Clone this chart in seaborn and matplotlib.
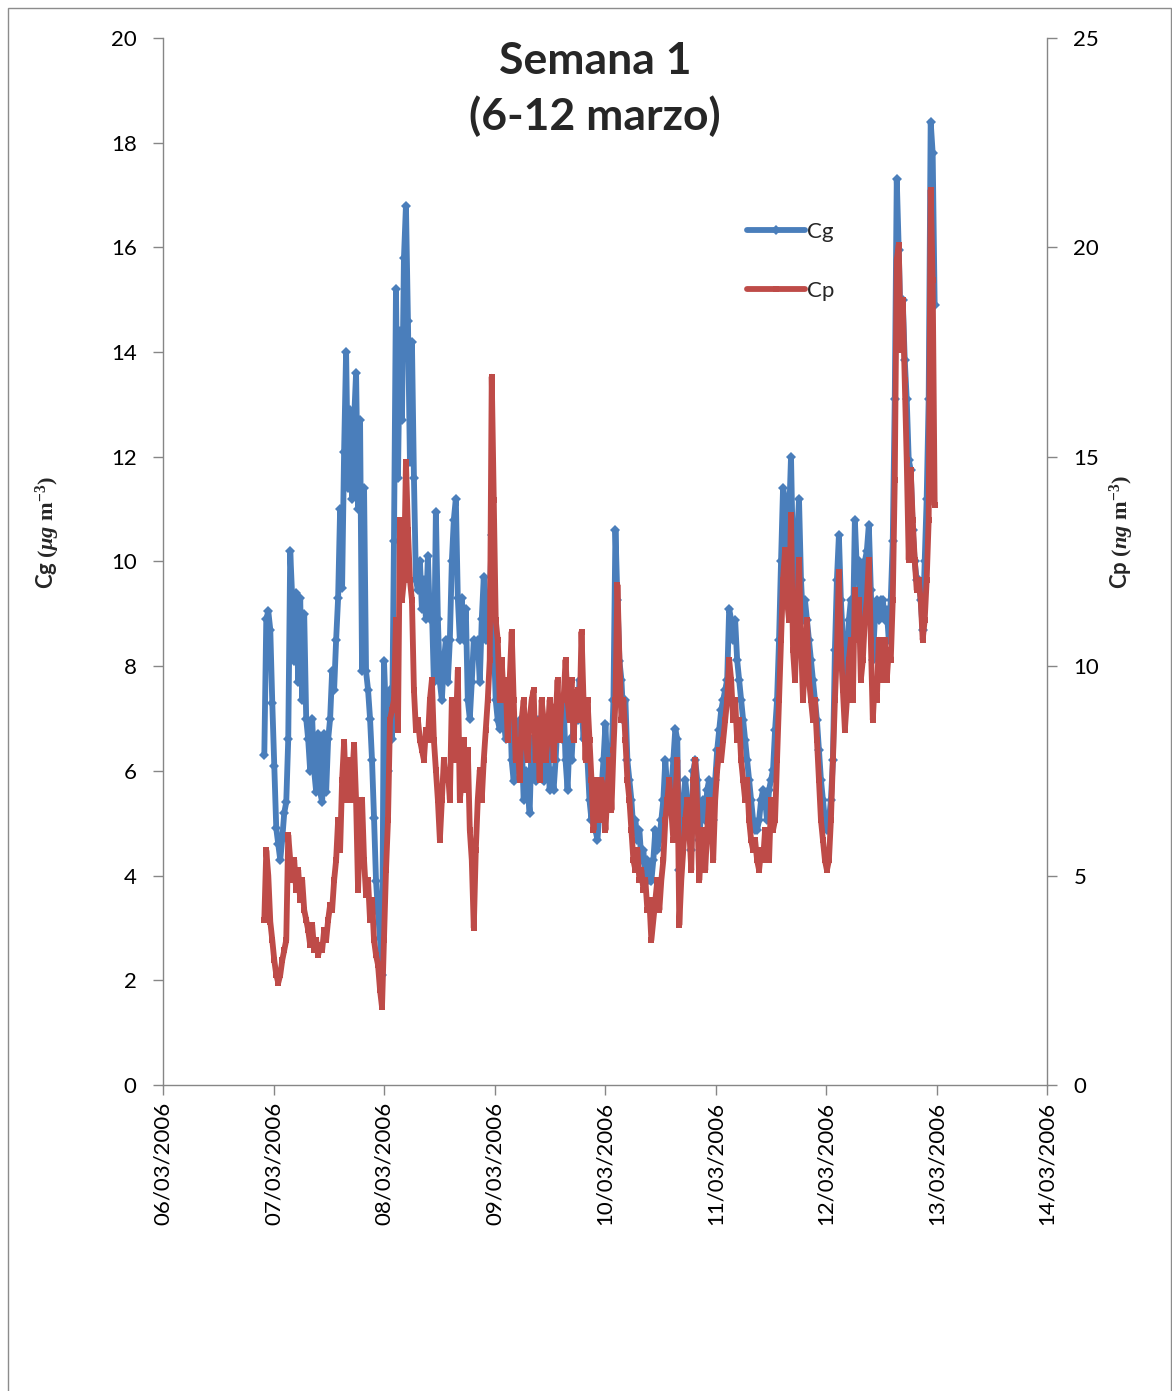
import pandas as pd
import matplotlib
matplotlib.use("Agg")
import matplotlib.pyplot as plt
import matplotlib.dates as mdates
from matplotlib.patches import Rectangle
import seaborn as sns

# Concentraciones medidas (serie cada 26 min desde el 06/03/2006 22:00)
inicio = "2006-03-06 22:00"
paso = "26min"

# Cg en ug m-3 (eje izquierdo)
cg = [
    6.3, 8.9, 9.05, 8.7, 7.3, 6.1, 4.9, 4.6, 4.3, 4.7,
    5.2, 5.4, 6.6, 10.2, 9.3, 8.1, 9.4, 7.7, 9.3, 7.35,
    9.0, 7.0, 6.6, 6.0, 7.0, 6.0, 5.6, 6.7, 5.6, 5.4,
    6.7, 5.6, 6.6, 7.0, 7.9, 7.55, 8.5, 9.3, 11.0, 9.5,
    12.1, 14.0, 11.4, 12.9, 11.2, 12.7, 13.6, 11.0, 12.7, 7.9,
    11.4, 7.9, 7.55, 7.0, 6.2, 5.1, 3.9, 3.3, 2.8, 2.1,
    8.1, 7.0, 6.0, 7.55, 6.6, 10.4, 15.2, 11.6, 14.4, 12.7,
    15.8, 16.8, 14.6, 11.9, 14.2, 11.6, 9.65, 9.45, 10.0, 9.1,
    9.65, 8.9, 10.1, 8.9, 9.1, 7.7, 10.95, 8.9, 7.7, 7.35,
    8.1, 8.5, 7.7, 8.5, 10.0, 10.8, 11.2, 9.3, 8.5, 9.3,
    8.5, 9.1, 7.35, 7.0, 7.7, 8.5, 8.3, 8.5, 7.7, 8.9,
    9.7, 8.5, 8.9, 9.3, 10.5, 8.5, 7.35, 6.97, 6.8, 7.35,
    6.97, 6.6, 7.35, 7.55, 6.2, 5.8, 6.6, 6.2, 6.97, 6.6,
    5.44, 6.0, 5.64, 5.2, 6.6, 6.2, 5.8, 6.97, 6.2, 6.6,
    5.8, 6.2, 6.97, 5.64, 6.0, 5.64, 6.2, 6.97, 7.35, 6.6,
    7.35, 6.2, 5.64, 6.6, 6.2, 6.97, 7.35, 6.97, 7.74, 7.35,
    6.6, 7.2, 6.2, 5.44, 5.06, 5.64, 4.87, 4.68, 5.25, 5.64,
    6.2, 6.9, 5.83, 5.44, 6.2, 7.35, 10.6, 9.26, 8.1, 7.74,
    6.97, 7.35, 6.2, 5.83, 5.44, 4.87, 5.06, 4.68, 4.87, 4.3,
    4.49, 3.92, 4.3, 3.92, 3.9, 4.3, 4.87, 4.49, 4.68, 5.06,
    5.44, 6.2, 5.64, 5.83, 5.64, 6.2, 6.8, 6.6, 4.11, 5.06,
    5.44, 5.83, 5.44, 5.06, 4.49, 6.0, 6.2, 5.83, 4.68, 5.25,
    5.44, 5.06, 5.64, 5.83, 5.44, 5.06, 5.83, 6.4, 6.78, 7.16,
    7.35, 7.55, 7.74, 9.1, 8.88, 8.5, 8.88, 8.12, 7.74, 7.35,
    6.97, 6.59, 6.21, 5.83, 5.44, 5.06, 4.87, 4.87, 5.06, 5.44,
    5.64, 5.44, 5.06, 5.64, 5.83, 6.02, 6.78, 7.35, 8.5, 10.0,
    11.4, 11.2, 10.0, 10.8, 12.0, 10.0, 9.26, 10.4, 11.2, 9.65,
    8.88, 9.26, 8.88, 8.5, 8.12, 7.74, 7.35, 6.97, 6.4, 5.83,
    5.44, 5.06, 4.87, 5.06, 5.44, 6.21, 8.31, 9.65, 10.5, 9.26,
    8.5, 7.74, 8.12, 8.88, 9.26, 8.5, 10.8, 9.84, 10.0, 8.88,
    9.65, 10.0, 10.2, 10.7, 9.46, 8.12, 8.88, 9.26, 8.88, 9.26,
    9.26, 8.88, 9.07, 8.5, 9.26, 10.4, 13.1, 17.3, 15.95, 14.4,
    15.0, 13.85, 13.1, 11.94, 11.75, 10.6, 10.0, 9.65, 9.65, 9.26,
    8.7, 10.0, 11.2, 13.1, 18.4, 17.8, 14.9,
]

# Cp en ng m-3 (eje derecho)
cp = [
    3.94, 5.6, 5.0, 3.9, 3.46, 2.98, 2.63, 2.44, 2.63, 2.98,
    3.22, 3.46, 5.97, 5.37, 4.89, 5.37, 4.66, 5.13, 4.42, 4.89,
    4.18, 3.94, 3.7, 3.34, 3.82, 3.22, 3.46, 3.10, 3.34, 3.22,
    3.7, 3.46, 3.94, 4.3, 4.18, 4.89, 5.37, 6.33, 5.61, 7.28,
    8.19, 6.81, 7.76, 6.81, 7.28, 8.12, 6.81, 4.66, 6.33, 6.81,
    5.37, 4.54, 4.89, 3.94, 4.42, 3.46, 3.10, 2.87, 2.27, 1.86,
    3.46, 5.13, 6.33, 8.72, 8.95, 9.19, 11.1, 8.48, 13.49, 11.58,
    12.06, 14.88, 13.25, 12.06, 11.58, 9.43, 8.48, 8.72, 8.24, 8.0,
    7.76, 8.48, 8.24, 9.19, 9.67, 8.24, 7.52, 6.81, 5.85, 6.81,
    7.76, 7.28, 7.52, 6.81, 9.19, 7.76, 8.48, 9.91, 6.81, 7.28,
    8.24, 7.04, 8.0, 6.09, 5.37, 3.75, 5.61, 6.81, 7.52, 6.81,
    7.76, 8.48, 9.19, 10.15, 16.91, 13.97, 11.1, 10.63, 9.19, 10.15,
    9.19, 9.67, 8.24, 9.67, 10.82, 9.19, 7.76, 8.24, 7.28, 8.72,
    9.19, 8.24, 7.76, 8.72, 9.19, 9.43, 7.76, 8.72, 7.28, 9.19,
    8.72, 7.76, 8.24, 9.19, 8.95, 7.76, 8.72, 9.67, 8.24, 9.19,
    9.19, 10.15, 9.19, 8.72, 9.67, 8.24, 9.19, 9.43, 8.72, 10.82,
    9.19, 7.76, 9.19, 8.24, 7.28, 6.09, 7.28, 6.81, 6.33, 7.28,
    6.81, 6.09, 7.04, 7.76, 6.57, 8.0, 9.19, 11.94, 10.15, 8.72,
    9.19, 8.24, 7.28, 6.81, 6.09, 5.37, 5.13, 5.61, 4.89, 5.13,
    4.66, 4.89, 4.18, 4.42, 3.46, 3.94, 4.42, 4.89, 4.18, 4.89,
    5.37, 6.33, 6.81, 7.28, 6.57, 5.85, 6.81, 7.76, 3.82, 4.89,
    5.61, 6.33, 6.81, 6.09, 5.13, 7.28, 7.76, 6.57, 4.89, 5.61,
    6.09, 5.13, 6.09, 6.81, 6.33, 5.37, 6.81, 7.52, 8.0, 7.76,
    8.24, 8.72, 9.19, 10.15, 9.67, 8.72, 9.19, 8.24, 8.72, 7.76,
    7.28, 6.81, 7.28, 6.33, 5.85, 5.61, 5.85, 5.37, 5.13, 5.61,
    5.37, 6.09, 5.85, 5.37, 6.81, 6.09, 6.33, 7.76, 9.19, 10.63,
    12.06, 12.77, 11.58, 11.1, 13.61, 10.39, 9.67, 11.1, 12.54, 10.63,
    9.19, 10.15, 11.1, 9.67, 9.19, 8.72, 9.19, 8.24, 7.28, 6.33,
    5.85, 5.37, 5.13, 5.37, 6.33, 7.76, 9.19, 10.39, 12.25, 10.39,
    9.43, 8.48, 9.19, 10.15, 10.63, 9.19, 11.82, 10.63, 11.58, 9.67,
    10.15, 11.1, 11.58, 12.54, 10.63, 8.72, 9.67, 9.19, 10.63, 10.15,
    9.67, 10.63, 9.67, 10.39, 10.15, 11.58, 14.45, 19.70, 20.06, 17.55,
    18.74, 16.83, 14.92, 12.54, 14.68, 13.49, 12.54, 11.82, 12.06, 11.58,
    10.63, 11.1, 12.06, 13.49, 21.37, 19.22, 13.85,
]

dias = ["2006-03-06", "2006-03-07", "2006-03-08", "2006-03-09", "2006-03-10",
        "2006-03-11", "2006-03-12", "2006-03-13", "2006-03-14"]
ticks_cg = [0, 2, 4, 6, 8, 10, 12, 14, 16, 18, 20]
ticks_cp = [0, 5, 10, 15, 20, 25]

AZUL = "#4A7EBB"
ROJO = "#BE4B48"
GRIS = "#868686"

sns.set_style("ticks")
plt.rcParams["font.family"] = ["Lato", "DejaVu Sans"]
plt.rcParams["mathtext.fontset"] = "custom"
plt.rcParams["mathtext.rm"] = "Liberation Serif:bold"
plt.rcParams["mathtext.bf"] = "Liberation Serif:bold"
plt.rcParams["mathtext.it"] = "Liberation Serif:italic:bold"

df_cg = pd.DataFrame({"fecha": pd.date_range(inicio, periods=len(cg), freq=paso), "Cg": cg})
df_cp = pd.DataFrame({"fecha": pd.date_range(inicio, periods=len(cp), freq=paso), "Cp": cp})

fig = plt.figure(figsize=(11.72, 13.91), dpi=100)
ax = fig.add_axes([0.13908, 0.21999, 0.75427, 0.75270])
ax2 = ax.twinx()

sns.lineplot(data=df_cg, x="fecha", y="Cg", ax=ax, color=AZUL, lw=4.2,
             marker="D", markersize=5, markeredgewidth=0, legend=False)
sns.lineplot(data=df_cp, x="fecha", y="Cp", ax=ax2, color=ROJO, lw=4.2,
             marker="s", markersize=5, markeredgewidth=0, legend=False)

ax.set_xlim(pd.Timestamp(dias[0]), pd.Timestamp(dias[-1]))
ax.set_xticks(pd.to_datetime(dias))
ax.xaxis.set_major_formatter(mdates.DateFormatter("%d/%m/%Y"))
for lbl in ax.get_xticklabels():
    lbl.set_rotation(90)

ax.set_ylim(0, 20)
ax.set_yticks(ticks_cg)
ax2.set_ylim(0, 25)
ax2.set_yticks(ticks_cp)

for a in (ax, ax2):
    a.spines["top"].set_visible(False)
    for s in a.spines.values():
        s.set_color(GRIS)
        s.set_linewidth(1)
ax.spines["right"].set_visible(False)
ax2.spines["left"].set_visible(False)
ax2.spines["bottom"].set_visible(False)

ax.tick_params(axis="x", direction="out", length=7, width=1, color=GRIS,
               labelsize=16, pad=5, labelcolor="black")
ax.tick_params(axis="y", direction="out", length=7, width=1, color=GRIS,
               labelsize=16, pad=12, labelcolor="black")
ax2.tick_params(axis="y", direction="out", length=7, width=1, color=GRIS,
                labelsize=16, pad=12, labelcolor="black")

ax.set_xlabel("")
ax2.set_xlabel("")
ax.set_ylabel(r"Cg $(\mathit{\mu g}\ \mathrm{m}^{-3})$", fontsize=16, fontweight="bold")
ax2.set_ylabel(r"Cp $(\mathit{ng}\ \mathrm{m}^{-3})$", fontsize=16, fontweight="bold",
               rotation=90)
ax.yaxis.set_label_coords(-0.115, 0.528)
ax2.yaxis.set_label_coords(1.0675, 0.528)

ax.text(0.489, 0.997, "Semana 1\n(6-12 marzo)", transform=ax.transAxes,
        ha="center", va="top", fontsize=32, fontweight="bold", linespacing=1.42)

linea_cg = ax.get_lines()[0]
linea_cp = ax2.get_lines()[0]
ax2.legend([linea_cg, linea_cp], ["Cg", "Cp"], loc="upper left",
           bbox_to_anchor=(747 / 1172, 1 - 222 / 1391), bbox_transform=fig.transFigure,
           frameon=False, fontsize=16, handlelength=2.6, handletextpad=0.12,
           labelspacing=1.75, borderpad=0, borderaxespad=0, numpoints=1)

fig.add_artist(Rectangle((8 / 1172, -0.01), (1170.5 - 8) / 1172, 1.0043,
                         transform=fig.transFigure, fill=False,
                         edgecolor="#8c8c8c", lw=1))

fig.savefig("out.png", dpi=100)
